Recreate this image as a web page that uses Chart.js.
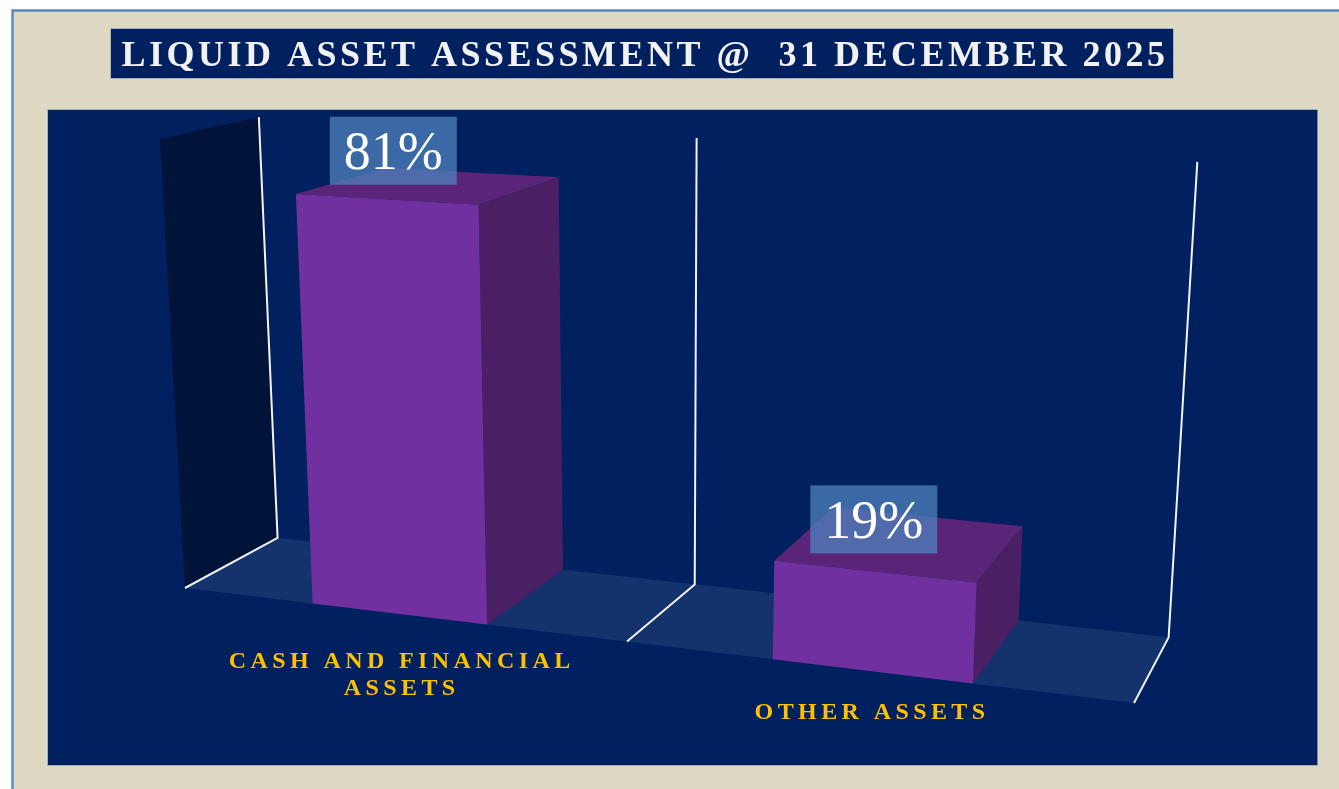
<!DOCTYPE html>
<html>
<head>
<meta charset="utf-8">
<style>html,body{margin:0;padding:0;background:#fff;overflow:hidden}canvas{display:block}</style>
<script src="https://cdn.jsdelivr.net/npm/chart.js@4/dist/chart.umd.min.js"></script>
</head>
<body>
<div style="width:1339px;height:789px;position:relative"><canvas id="c" width="1339" height="789"></canvas></div>
<script>
const titleText = 'LIQUID ASSET ASSESSMENT @  31 DECEMBER 2025';
const categories = [['CASH AND FINANCIAL', 'ASSETS'], ['OTHER ASSETS']];
const shares = [81, 19];
const axisMax = 90;

// picture layout: how the flat chart area is seen in perspective
const FLOOR_FRONT_L = [185, 588], FLOOR_FRONT_R = [1134, 703], TOP_FRONT_R = [1163, 191], TOP_FRONT_L = [160, 139];
const VANISH = [1600, -180], DEPTH = 0.0700;
const FRONT = '#7030A0', TOP = '#5A2478', SIDE = '#4A1F64';

function makeProjector(area) {
  const [x0, y0] = FLOOR_FRONT_L, [x1, y1] = FLOOR_FRONT_R, [x2, y2] = TOP_FRONT_R, [x3, y3] = TOP_FRONT_L;
  const dx1 = x1 - x2, dx2 = x3 - x2, dx3 = x0 - x1 + x2 - x3;
  const dy1 = y1 - y2, dy2 = y3 - y2, dy3 = y0 - y1 + y2 - y3;
  const den = dx1 * dy2 - dx2 * dy1;
  const g = (dx3 * dy2 - dx2 * dy3) / den, h = (dx1 * dy3 - dx3 * dy1) / den;
  const a = x1 - x0 + g * x1, b = x3 - x0 + h * x3, d = y1 - y0 + g * y1, e = y3 - y0 + h * y3;
  return (px, py, z) => {
    const s = (px - area.left) / area.width, t = (area.bottom - py) / area.height;
    const k = z * DEPTH;
    const W = g * s + h * t + 1 + k;
    return [(a * s + b * t + x0 + k * VANISH[0]) / W, (d * s + e * t + y0 + k * VANISH[1]) / W];
  };
}
function poly(ctx, pts, fill) {
  ctx.beginPath();
  pts.forEach((p, i) => i ? ctx.lineTo(p[0], p[1]) : ctx.moveTo(p[0], p[1]));
  ctx.closePath();
  ctx.fillStyle = fill;
  ctx.fill();
}

const scene = {
  id: 'scene',
  beforeDraw(chart) {
    const ctx = chart.ctx, tb = chart.titleBlock;
    ctx.save();
    ctx.fillStyle = '#fff'; ctx.fillRect(0, 0, 1339, 789);
    ctx.fillStyle = '#DDD9C3'; ctx.fillRect(12, 10, 1327, 779);
    ctx.strokeStyle = '#5B87C0'; ctx.lineWidth = 2.4;
    ctx.beginPath(); ctx.moveTo(12.5, 789); ctx.lineTo(12.5, 10.5); ctx.lineTo(1339, 10.5); ctx.stroke();
    ctx.fillStyle = '#002060';
    ctx.fillRect(48, 110, 1269.5, 655);
    ctx.fillRect(tb.left, tb.top, tb.width, 49);
    ctx.strokeStyle = 'rgba(130,150,180,0.6)'; ctx.lineWidth = 1;
    ctx.strokeRect(47.5, 109.5, 1270, 656);
    ctx.strokeRect(tb.left - .5, tb.top - .5, tb.width + 1, 50);
    ctx.restore();
    ctx.letterSpacing = '3.5px';
    ctx.translate(3, 0);
  },
  beforeDatasetsDraw(chart) {
    const ctx = chart.ctx;
    ctx.letterSpacing = '0px';
    ctx.translate(-3, 0);
    const area = chart.chartArea, P = makeProjector(area);
    const L = area.left, R = area.right, B = area.bottom, T = area.top, M = (L + R) / 2;
    poly(ctx, [P(L, T, 0), P(L, T, 1), P(L, B, 1), P(L, B, 0)], '#00143A');
    poly(ctx, [P(L, B, 0), P(R, B, 0), P(R, B, 1), P(L, B, 1)], '#14326B');
    ctx.save();
    ctx.strokeStyle = '#F2F2F2'; ctx.lineWidth = 2; ctx.lineJoin = 'round';
    [L, M, R].forEach(x => {
      const a = P(x, T, 1), b = P(x, B, 1), c = P(x, B, 0);
      ctx.beginPath(); ctx.moveTo(a[0], a[1]); ctx.lineTo(b[0], b[1]); ctx.lineTo(c[0], c[1]); ctx.stroke();
    });
    ctx.restore();
  },
  beforeDatasetDraw() { return false; },
  afterDatasetsDraw(chart) {
    const ctx = chart.ctx, area = chart.chartArea, P = makeProjector(area);
    const bars = chart.getDatasetMeta(0).data, xs = chart.scales.x;
    bars.forEach(bar => {
      const { x, y, base, width } = bar.getProps(['x', 'y', 'base', 'width'], true);
      const l = x - width / 2, r = x + width / 2;
      poly(ctx, [P(r, y, 0), P(r, y, 1), P(r, base, 1), P(r, base, 0)], SIDE);
      poly(ctx, [P(l, y, 0), P(r, y, 0), P(r, y, 1), P(l, y, 1)], TOP);
      poly(ctx, [P(l, y, 0), P(r, y, 0), P(r, base, 0), P(l, base, 0)], FRONT);
    });
    ctx.save();
    ctx.textAlign = 'center';
    ctx.textBaseline = 'middle';
    bars.forEach((bar, i) => {
      const { x, y, base } = bar.getProps(['x', 'y', 'base'], true);
      const top = P(x, y, 0), foot = P(x, base, 0);
      const s = (x - area.left) / area.width;
      const cx = (top[0] + foot[0]) / 2 + 1, cy = top[1] - 46.75 - 7 * s;
      ctx.fillStyle = 'rgba(79,129,189,0.75)';
      ctx.fillRect(cx - 63.5, cy - 34, 127, 68);
      ctx.fillStyle = '#fff';
      ctx.font = '54px "Liberation Serif"';
      ctx.fillText(shares[i] + '%', cx, cy + 4);

      const lines = [].concat(xs.getLabels()[i]);
      ctx.fillStyle = '#FFC000';
      ctx.font = 'bold 24px "Liberation Serif"';
      ctx.letterSpacing = '4.4px';
      lines.forEach((line, n) => ctx.fillText(line, foot[0] + 4.25 - 5 * s, foot[1] + 51 - 12 * s + n * 27));
      ctx.letterSpacing = '0px';
    });
    ctx.restore();
  }
};

new Chart(document.getElementById('c'), {
  type: 'bar',
  data: {
    labels: categories,
    datasets: [{ data: shares, backgroundColor: FRONT, barPercentage: 0.395, categoryPercentage: 1 }]
  },
  options: {
    responsive: false,
    animation: false,
    events: [],
    layout: { padding: { left: 111, right: 166, top: 29, bottom: 24 } },
    plugins: {
      legend: { display: false },
      tooltip: { enabled: false },
      title: {
        display: true,
        text: titleText,
        color: '#F2F2F2',
        padding: { top: 3, bottom: 0 },
        font: { family: '"Liberation Serif"', size: 36, weight: 'bold', lineHeight: 1.36 }
      }
    },
    scales: {
      x: { display: false },
      y: { display: false, min: 0, max: axisMax }
    }
  },
  plugins: [scene]
});
</script>
</body>
</html>
